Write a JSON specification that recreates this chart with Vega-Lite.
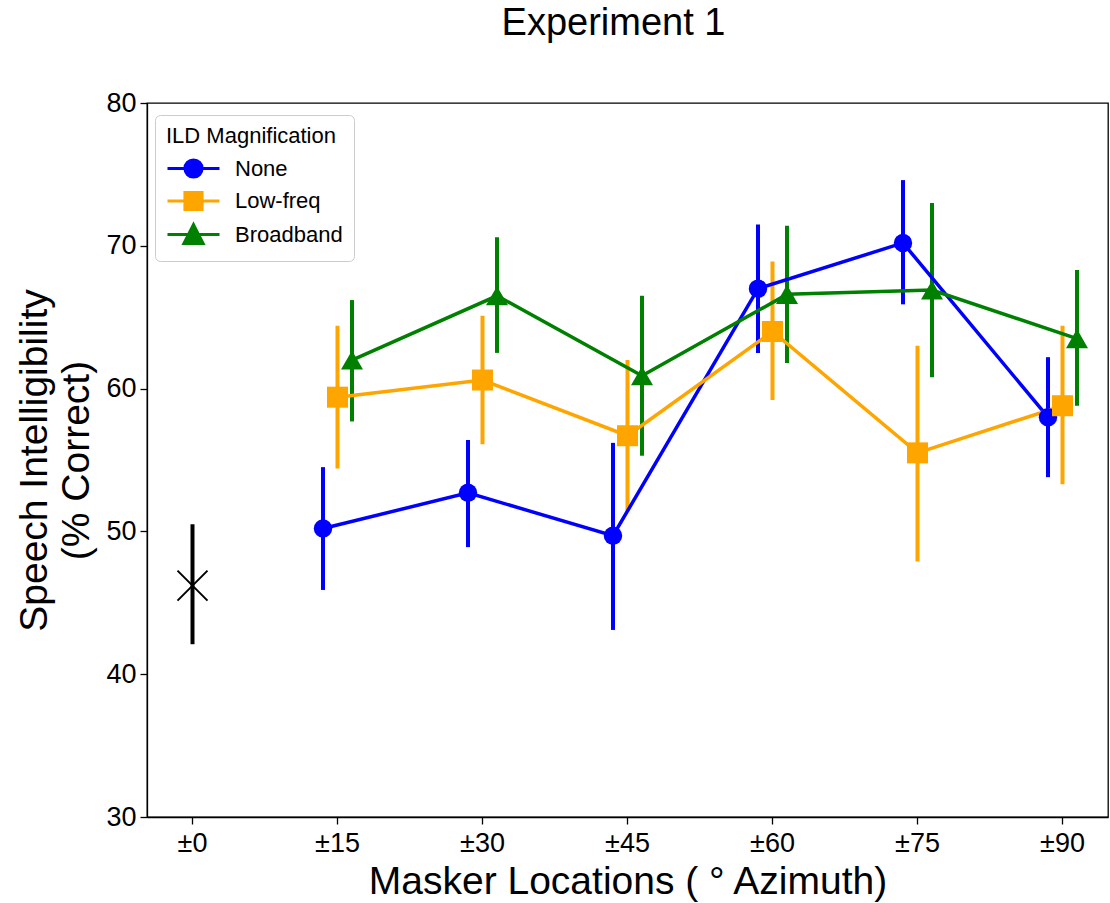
{
  "$schema": "https://vega.github.io/schema/vega-lite/v6.json",
  "autosize": "none",
  "width": 961,
  "height": 714,
  "padding": {"left": 147, "top": 103, "right": 2, "bottom": 86},
  "background": "white",
  "title": {
    "text": "Experiment 1",
    "font": "Liberation Sans",
    "fontSize": 38,
    "fontWeight": "normal",
    "color": "black",
    "anchor": "middle",
    "frame": "group",
    "baseline": "alphabetic",
    "dx": -14,
    "offset": 16
  },
  "datasets": {
    "ild": [
      {"azimuth": "±15", "series": "None", "mean": 50.2, "lo": 45.9, "hi": 54.5},
      {"azimuth": "±30", "series": "None", "mean": 52.7, "lo": 48.9, "hi": 56.4},
      {"azimuth": "±45", "series": "None", "mean": 49.7, "lo": 43.1, "hi": 56.2},
      {"azimuth": "±60", "series": "None", "mean": 67.0, "lo": 62.5, "hi": 71.5},
      {"azimuth": "±75", "series": "None", "mean": 70.2, "lo": 65.9, "hi": 74.6},
      {"azimuth": "±90", "series": "None", "mean": 58.0, "lo": 53.8, "hi": 62.2},
      {"azimuth": "±15", "series": "Low-freq", "mean": 59.4, "lo": 54.4, "hi": 64.4},
      {"azimuth": "±30", "series": "Low-freq", "mean": 60.6, "lo": 56.1, "hi": 65.1},
      {"azimuth": "±45", "series": "Low-freq", "mean": 56.7, "lo": 51.4, "hi": 62.0},
      {"azimuth": "±60", "series": "Low-freq", "mean": 64.0, "lo": 59.2, "hi": 68.9},
      {"azimuth": "±75", "series": "Low-freq", "mean": 55.5, "lo": 47.9, "hi": 63.0},
      {"azimuth": "±90", "series": "Low-freq", "mean": 58.8, "lo": 53.3, "hi": 64.4},
      {"azimuth": "±15", "series": "Broadband", "mean": 62.0, "lo": 57.7, "hi": 66.2},
      {"azimuth": "±30", "series": "Broadband", "mean": 66.5, "lo": 62.5, "hi": 70.6},
      {"azimuth": "±45", "series": "Broadband", "mean": 60.9, "lo": 55.3, "hi": 66.5},
      {"azimuth": "±60", "series": "Broadband", "mean": 66.6, "lo": 61.8, "hi": 71.4},
      {"azimuth": "±75", "series": "Broadband", "mean": 66.9, "lo": 60.8, "hi": 73.0},
      {"azimuth": "±90", "series": "Broadband", "mean": 63.5, "lo": 58.8, "hi": 68.3}
    ],
    "control": [
      {"azimuth": "±0", "mean": 46.2, "lo": 42.1, "hi": 50.5}
    ]
  },
  "encoding": {
    "x": {
      "field": "azimuth",
      "type": "ordinal",
      "scale": {
        "type": "band",
        "domain": ["±0", "±15", "±30", "±45", "±60", "±75", "±90"],
        "paddingInner": 0.7,
        "paddingOuter": 0.1638
      },
      "axis": {
        "title": "Masker Locations (  °  Azimuth)",
        "labelAngle": 0,
        "labelFontSize": 27,
        "titleFontSize": 39,
        "labelPadding": 6,
        "titlePadding": 6,
        "tickSize": 7,
        "bandPosition": 0.5
      }
    },
    "y": {
      "field": "mean",
      "type": "quantitative",
      "scale": {"domain": [30, 80], "nice": false, "zero": false},
      "axis": {
        "title": ["Speech Intelligibility", "(% Correct)"],
        "values": [30, 40, 50, 60, 70, 80],
        "labelFontSize": 27,
        "titleFontSize": 39,
        "titleLineHeight": 42,
        "labelPadding": 4,
        "titlePadding": 9,
        "tickSize": 7
      }
    },
    "color": {
      "field": "series",
      "type": "nominal",
      "scale": {
        "domain": ["None", "Low-freq", "Broadband"],
        "range": ["#0000ff", "#ffa500", "#008000"]
      },
      "legend": {
        "title": "ILD Magnification",
        "orient": "none",
        "legendX": 8,
        "legendY": 12,
        "direction": "vertical",
        "titleFontSize": 22,
        "labelFontSize": 22,
        "titleFontWeight": "normal",
        "titleColor": "black",
        "labelColor": "black",
        "titlePadding": 6,
        "padding": 11,
        "rowPadding": 1.5,
        "labelOffset": 27,
        "symbolOffset": 13,
        "symbolSize": 676,
        "strokeColor": "#cccccc",
        "fillColor": "white",
        "cornerRadius": 5,
        "encode": {
          "symbols": {
            "update": {
              "fill": {"scale": "color", "field": "value"},
              "stroke": {"scale": "color", "field": "value"},
              "strokeWidth": {"value": 3},
              "opacity": {"value": 1},
              "size": {"value": 676},
              "shape": {"signal": "datum.value === 'None' ? 'M-2,0H2M-0.66,0A0.66,0.66,0,1,0,0.66,0A0.66,0.66,0,1,0,-0.66,0Z' : datum.value === 'Low-freq' ? 'M-2,0H2M-0.66,-0.66H0.66V0.66H-0.66Z' : 'M-2,0H2M0,-0.76L0.74,0.7H-0.74Z'"}
            }
          }
        }
      }
    }
  },
  "layer": [
    {
      "data": {"name": "control"},
      "mark": {"type": "rule", "strokeWidth": 4},
      "encoding": {
        "y": {"field": "lo", "type": "quantitative"},
        "y2": {"field": "hi"},
        "color": {"value": "black"}
      }
    },
    {
      "data": {"name": "control"},
      "mark": {"type": "point", "shape": "M-1,-1L1,1M-1,1L1,-1", "filled": false, "strokeWidth": 2, "size": 900, "opacity": 1},
      "encoding": {
        "color": {"value": "black"}
      }
    },
    {
      "data": {"name": "ild"},
      "mark": {"type": "rule", "strokeWidth": 4},
      "encoding": {
        "xOffset": {"field": "series", "type": "nominal", "scale": {"domain": ["None", "Low-freq", "Broadband"], "paddingInner": 0, "paddingOuter": 0}},
        "y": {"field": "lo", "type": "quantitative"},
        "y2": {"field": "hi"}
      }
    },
    {
      "data": {"name": "ild"},
      "mark": {"type": "line", "strokeWidth": 3.5},
      "encoding": {
        "xOffset": {"field": "series", "type": "nominal", "scale": {"domain": ["None", "Low-freq", "Broadband"], "paddingInner": 0, "paddingOuter": 0}}
      }
    },
    {
      "data": {"name": "ild"},
      "transform": [{"filter": "datum.series === 'None'"}],
      "mark": {"type": "point", "shape": "circle", "filled": true, "opacity": 1, "size": 340},
      "encoding": {
        "xOffset": {"field": "series", "type": "nominal", "scale": {"domain": ["None", "Low-freq", "Broadband"], "paddingInner": 0, "paddingOuter": 0}}
      }
    },
    {
      "data": {"name": "ild"},
      "transform": [{"filter": "datum.series === 'Low-freq'"}],
      "mark": {"type": "point", "shape": "square", "filled": true, "opacity": 1, "size": 441},
      "encoding": {
        "xOffset": {"field": "series", "type": "nominal", "scale": {"domain": ["None", "Low-freq", "Broadband"], "paddingInner": 0, "paddingOuter": 0}}
      }
    },
    {
      "data": {"name": "ild"},
      "transform": [{"filter": "datum.series === 'Broadband'"}],
      "mark": {"type": "point", "shape": "triangle-up", "filled": true, "opacity": 1, "size": 484},
      "encoding": {
        "xOffset": {"field": "series", "type": "nominal", "scale": {"domain": ["None", "Low-freq", "Broadband"], "paddingInner": 0, "paddingOuter": 0}}
      }
    }
  ],
  "config": {
    "font": "Liberation Sans",
    "view": {"stroke": "black", "strokeWidth": 1.3},
    "axis": {
      "grid": false,
      "domainColor": "black",
      "domainWidth": 1.3,
      "tickColor": "black",
      "tickWidth": 1.3,
      "labelColor": "black",
      "titleColor": "black",
      "labelFont": "Liberation Sans",
      "titleFont": "Liberation Sans",
      "titleFontWeight": "normal"
    },
    "legend": {"labelFont": "Liberation Sans", "titleFont": "Liberation Sans"}
  }
}
